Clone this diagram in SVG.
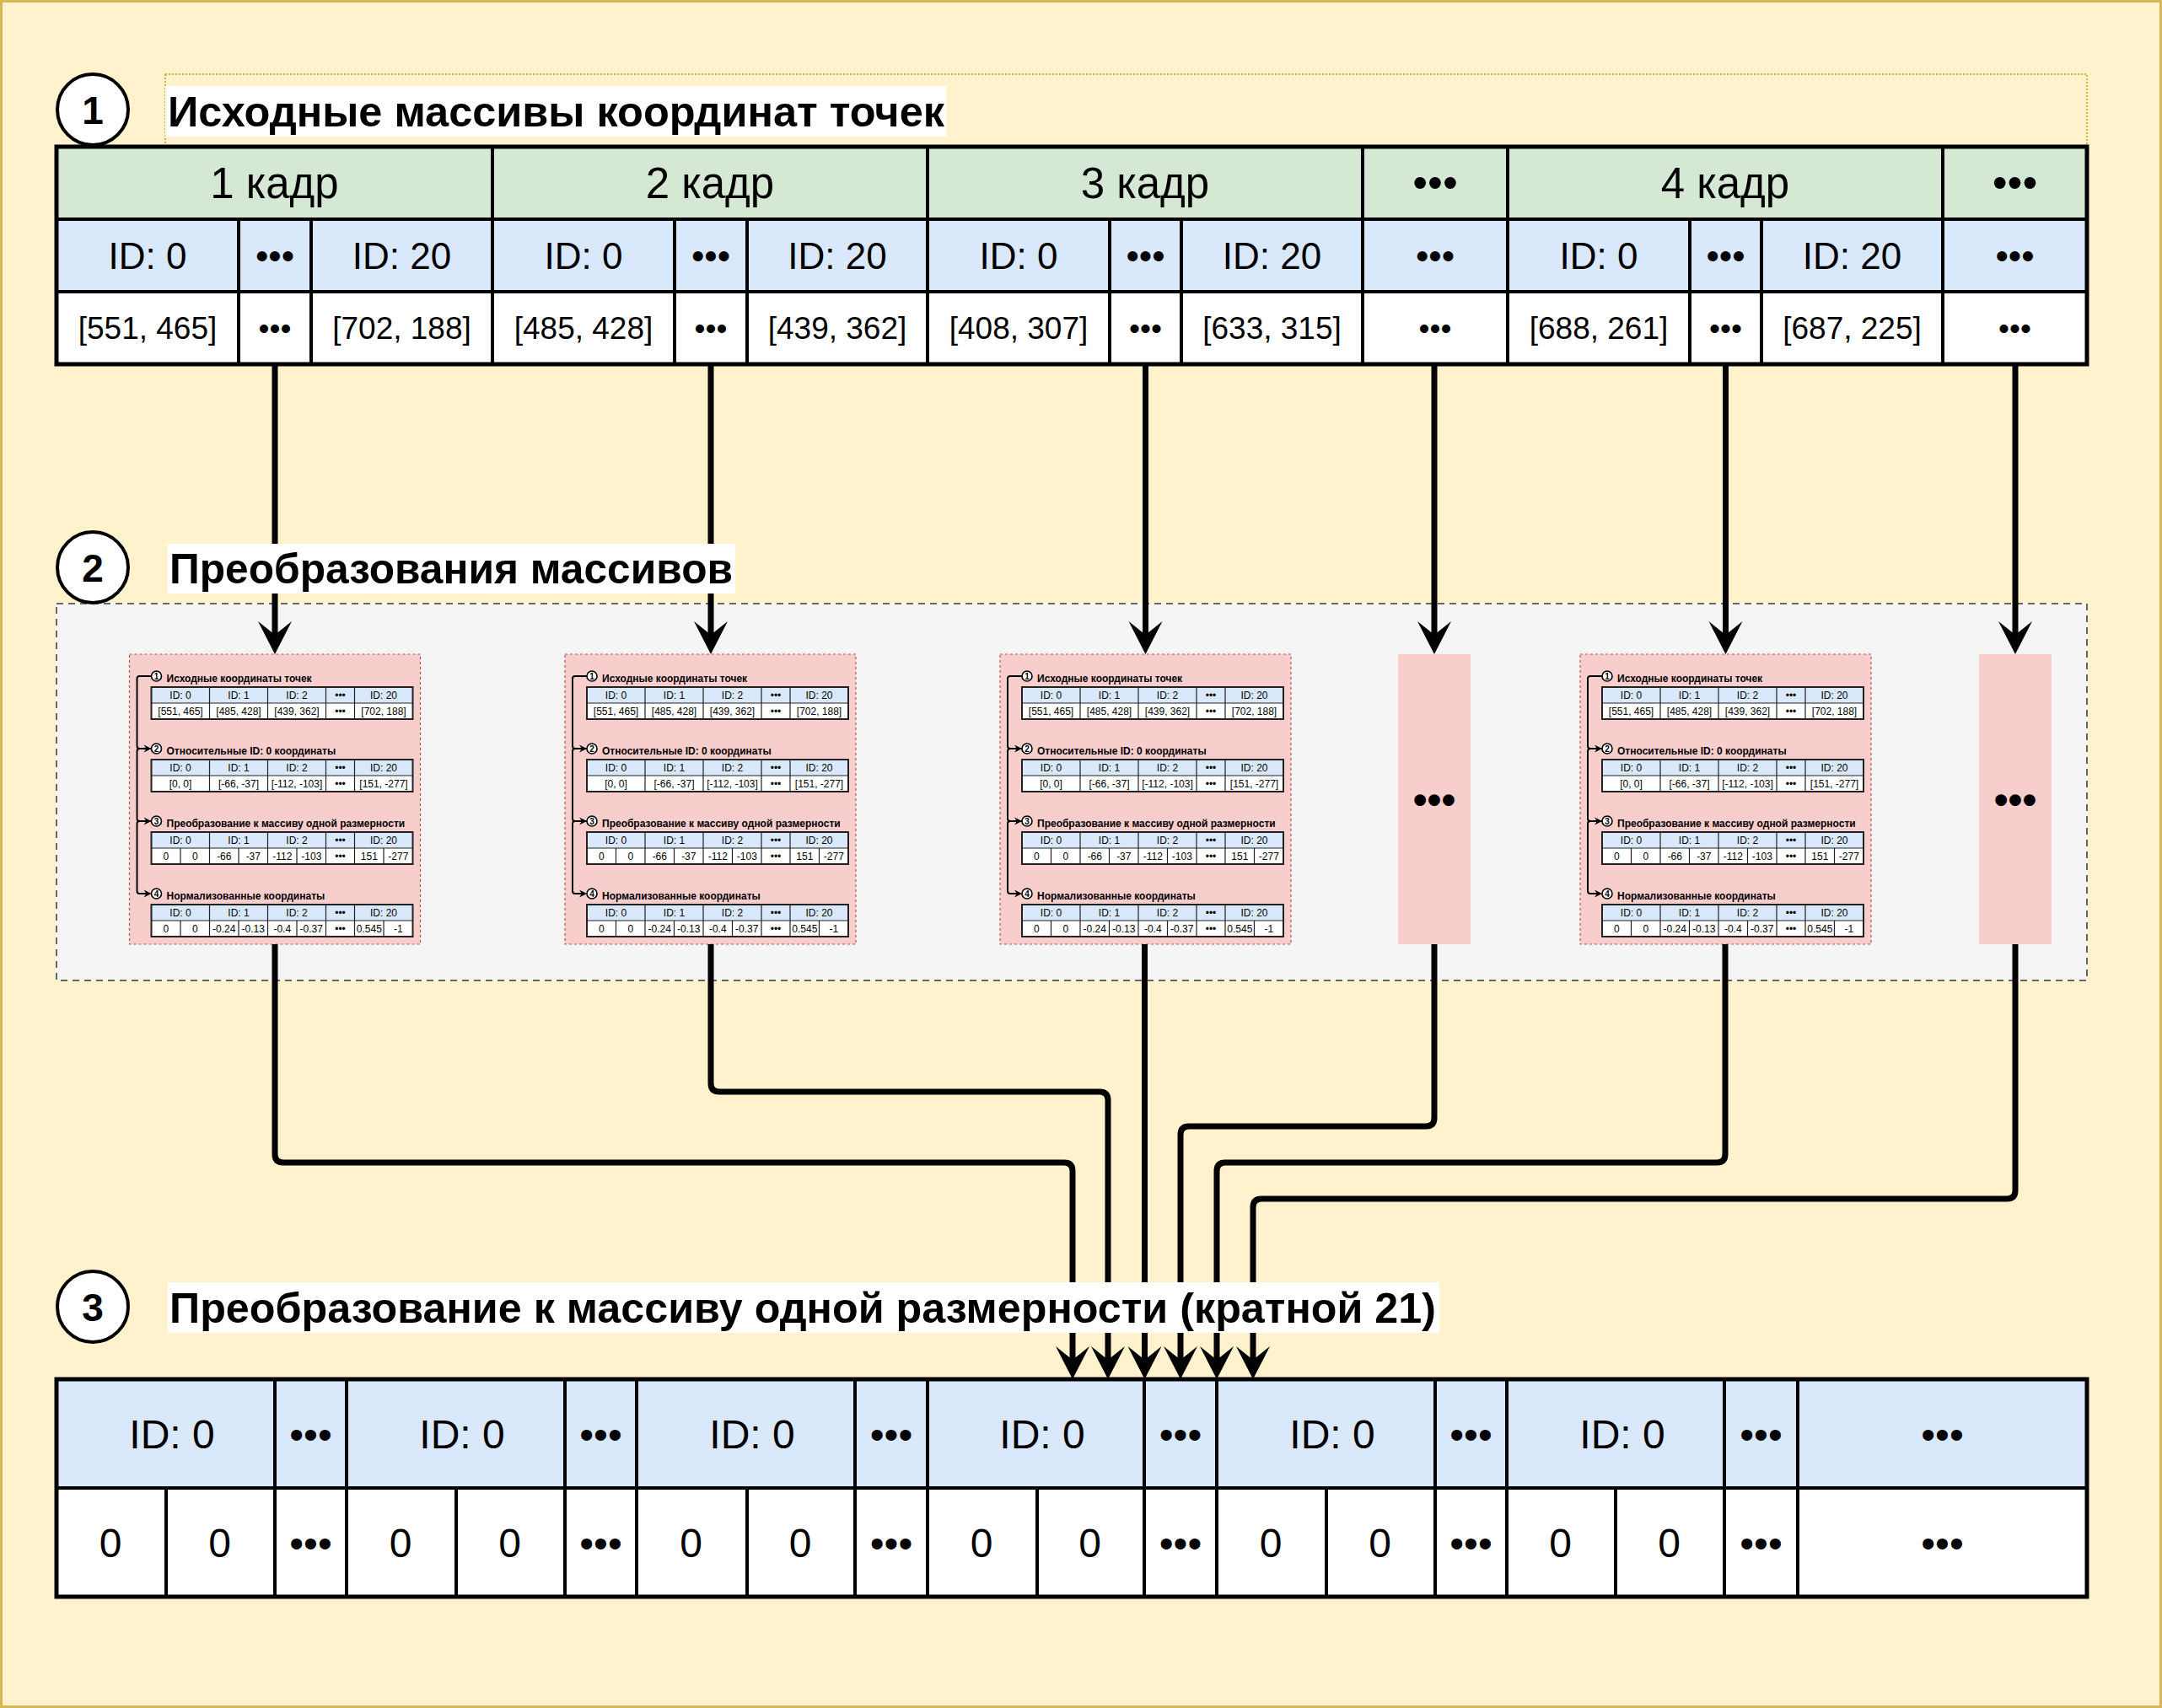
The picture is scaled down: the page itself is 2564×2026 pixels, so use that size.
<svg xmlns="http://www.w3.org/2000/svg" width="2564" height="2026" viewBox="0 0 2564 2026">
<defs>
<style>
text{font-family:"Liberation Sans",Arial,Helvetica,sans-serif;fill:#000;text-anchor:middle}
.tt{font-size:50px;font-weight:bold;text-anchor:start}
.cn{font-size:46px;font-weight:bold}
.h{font-size:51px}
.id{font-size:44px}
.d{font-size:37px}
.b{font-size:48px}
.m{font-size:12px}
.mt{font-size:12px;font-weight:bold;text-anchor:start}
.mc{font-size:10px;font-weight:bold}
.ln{stroke:#000;stroke-width:4;fill:none}
.lo{stroke:#000;stroke-width:5;fill:none}
.con{stroke:#000;stroke-width:7;fill:none;marker-end:url(#ab)}
.br{fill:none;stroke:#000;stroke-width:2;marker-end:url(#as)}
.mg{stroke:#222;stroke-width:1.2;fill:none}
.mo{stroke:#222;stroke-width:2;fill:none}
.mcir{fill:#fff;stroke:#000;stroke-width:1.6}
.pink{fill:#f8cecc;stroke:#b85450;stroke-width:1.2;stroke-dasharray:3 3}
.blue{fill:#dae8fc}
.wh{fill:#fff}
.cir{fill:#fff;stroke:#000;stroke-width:4}
</style>
<marker id="ab" markerUnits="userSpaceOnUse" markerWidth="50" markerHeight="50" viewBox="-25 -25 50 50" refX="0" refY="0" orient="auto" overflow="visible"><path d="M23 0L-16 20L0 0L-16 -20Z" fill="#000"/></marker>
<marker id="as" markerUnits="userSpaceOnUse" markerWidth="20" markerHeight="20" viewBox="-10 -10 20 20" refX="0" refY="0" orient="auto" overflow="visible"><path d="M6 0L-3 4.5L0 0L-3 -4.5Z" fill="#000"/></marker>
</defs>

<rect id="background" x="1.5" y="1.5" width="2561" height="2023" fill="#fff2cc" stroke="#d6b656" stroke-width="3"/>
<rect id="title1-frame" x="196" y="88" width="2279" height="86" fill="none" stroke="#d79b00" stroke-width="1.5" stroke-dasharray="2 2"/>
<rect id="transform-container" x="67" y="716" width="2408" height="447" fill="#f5f5f5" stroke="#666" stroke-width="2" stroke-dasharray="8 6"/>

<!-- Top table -->
<g id="source-table">
<rect x="67" y="174" width="2408" height="86" fill="#d5e8d4"/>
<rect x="67" y="260" width="2408" height="86" class="blue"/>
<rect x="67" y="346" width="2408" height="86" class="wh"/>
<path class="ln" d="M67 260H2475M67 346H2475M584 174V432M1100 174V432M1616 174V432M1788 174V432M2304 174V432M283 260V432M369 260V432M800 260V432M886 260V432M1316 260V432M1401 260V432M2004 260V432M2089 260V432"/>
<rect class="lo" x="67" y="174" width="2408" height="258"/>
<text class="h" x="325.5" y="235">1 кадр</text>
<text class="h" x="842" y="235">2 кадр</text>
<text class="h" x="1358" y="235">3 кадр</text>
<text class="h" x="1702" y="234">•••</text>
<text class="h" x="2046" y="235">4 кадр</text>
<text class="h" x="2389.5" y="234">•••</text>
<text class="id" x="175" y="319">ID: 0</text>
<text class="id" x="326" y="319">•••</text>
<text class="id" x="476.5" y="319">ID: 20</text>
<text class="id" x="692" y="319">ID: 0</text>
<text class="id" x="843" y="319">•••</text>
<text class="id" x="993" y="319">ID: 20</text>
<text class="id" x="1208" y="319">ID: 0</text>
<text class="id" x="1358.5" y="319">•••</text>
<text class="id" x="1508.5" y="319">ID: 20</text>
<text class="id" x="1702" y="319">•••</text>
<text class="id" x="1896" y="319">ID: 0</text>
<text class="id" x="2046.5" y="319">•••</text>
<text class="id" x="2196.5" y="319">ID: 20</text>
<text class="id" x="2389.5" y="319">•••</text>
<text class="d" x="175" y="402">[551, 465]</text>
<text class="d" x="326" y="402">•••</text>
<text class="d" x="476.5" y="402">[702, 188]</text>
<text class="d" x="692" y="402">[485, 428]</text>
<text class="d" x="843" y="402">•••</text>
<text class="d" x="993" y="402">[439, 362]</text>
<text class="d" x="1208" y="402">[408, 307]</text>
<text class="d" x="1358.5" y="402">•••</text>
<text class="d" x="1508.5" y="402">[633, 315]</text>
<text class="d" x="1702" y="402">•••</text>
<text class="d" x="1896" y="402">[688, 261]</text>
<text class="d" x="2046.5" y="402">•••</text>
<text class="d" x="2196.5" y="402">[687, 225]</text>
<text class="d" x="2389.5" y="402">•••</text>
</g>

<!-- Mini diagram 1 -->
<g id="frame1-transform" transform="translate(153.5,776)">
<rect class="pink" x="0" y="0" width="345" height="344"/>
<path class="br" d="M26 26H12Q9 26 9 29V109Q9 112 12 112H20"/>
<path class="br" d="M26 112H12Q9 112 9 115V195Q9 198 12 198H20"/>
<path class="br" d="M26 198H12Q9 198 9 201V281Q9 284 12 284H20"/>
<circle class="mcir" cx="32" cy="26" r="6"/><text class="mc" x="32" y="29.5">1</text>
<circle class="mcir" cx="32" cy="112" r="6"/><text class="mc" x="32" y="115.5">2</text>
<circle class="mcir" cx="32" cy="198" r="6"/><text class="mc" x="32" y="201.5">3</text>
<circle class="mcir" cx="32" cy="284" r="6"/><text class="mc" x="32" y="287.5">4</text>
<text class="mt" x="44" y="33">Исходные координаты точек</text>
<text class="mt" x="44" y="119">Относительные ID: 0 координаты</text>
<text class="mt" x="44" y="205">Преобразование к массиву одной размерности</text>
<text class="mt" x="44" y="291">Нормализованные координаты</text>
<rect class="blue" x="26" y="39" width="310" height="19"/><rect class="wh" x="26" y="58" width="310" height="19"/>
<rect class="blue" x="26" y="125" width="310" height="19"/><rect class="wh" x="26" y="144" width="310" height="19"/>
<rect class="blue" x="26" y="211" width="310" height="19"/><rect class="wh" x="26" y="230" width="310" height="19"/>
<rect class="blue" x="26" y="297" width="310" height="19"/><rect class="wh" x="26" y="316" width="310" height="19"/>
<path class="mg" d="M26 58H336M95 39V77M164 39V77M233 39V77M267 39V77M26 144H336M95 125V163M164 125V163M233 125V163M267 125V163M26 230H336M95 211V249M164 211V249M233 211V249M267 211V249M60.5 230V249M129.5 230V249M198.5 230V249M301.5 230V249M26 316H336M95 297V335M164 297V335M233 297V335M267 297V335M60.5 316V335M129.5 316V335M198.5 316V335M301.5 316V335"/>
<rect class="mo" x="26" y="39" width="310" height="38"/><rect class="mo" x="26" y="125" width="310" height="38"/><rect class="mo" x="26" y="211" width="310" height="38"/><rect class="mo" x="26" y="297" width="310" height="38"/>
<text class="m" x="60.5" y="52.7">ID: 0</text><text class="m" x="129.5" y="52.7">ID: 1</text><text class="m" x="198.5" y="52.7">ID: 2</text><text class="m" x="250" y="52.7">•••</text><text class="m" x="301.5" y="52.7">ID: 20</text>
<text class="m" x="60.5" y="71.7">[551, 465]</text><text class="m" x="129.5" y="71.7">[485, 428]</text><text class="m" x="198.5" y="71.7">[439, 362]</text><text class="m" x="250" y="71.7">•••</text><text class="m" x="301.5" y="71.7">[702, 188]</text>
<text class="m" x="60.5" y="138.7">ID: 0</text><text class="m" x="129.5" y="138.7">ID: 1</text><text class="m" x="198.5" y="138.7">ID: 2</text><text class="m" x="250" y="138.7">•••</text><text class="m" x="301.5" y="138.7">ID: 20</text>
<text class="m" x="60.5" y="157.7">[0, 0]</text><text class="m" x="129.5" y="157.7">[-66, -37]</text><text class="m" x="198.5" y="157.7">[-112, -103]</text><text class="m" x="250" y="157.7">•••</text><text class="m" x="301.5" y="157.7">[151, -277]</text>
<text class="m" x="60.5" y="224.7">ID: 0</text><text class="m" x="129.5" y="224.7">ID: 1</text><text class="m" x="198.5" y="224.7">ID: 2</text><text class="m" x="250" y="224.7">•••</text><text class="m" x="301.5" y="224.7">ID: 20</text>
<text class="m" x="43.3" y="243.7">0</text><text class="m" x="77.8" y="243.7">0</text><text class="m" x="112.3" y="243.7">-66</text><text class="m" x="146.8" y="243.7">-37</text><text class="m" x="181.3" y="243.7">-112</text><text class="m" x="215.8" y="243.7">-103</text><text class="m" x="250" y="243.7">•••</text><text class="m" x="284.3" y="243.7">151</text><text class="m" x="318.8" y="243.7">-277</text>
<text class="m" x="60.5" y="310.7">ID: 0</text><text class="m" x="129.5" y="310.7">ID: 1</text><text class="m" x="198.5" y="310.7">ID: 2</text><text class="m" x="250" y="310.7">•••</text><text class="m" x="301.5" y="310.7">ID: 20</text>
<text class="m" x="43.3" y="329.7">0</text><text class="m" x="77.8" y="329.7">0</text><text class="m" x="112.3" y="329.7">-0.24</text><text class="m" x="146.8" y="329.7">-0.13</text><text class="m" x="181.3" y="329.7">-0.4</text><text class="m" x="215.8" y="329.7">-0.37</text><text class="m" x="250" y="329.7">•••</text><text class="m" x="284.3" y="329.7">0.545</text><text class="m" x="318.8" y="329.7">-1</text>
</g>

<!-- Mini diagram 2 -->
<g id="frame2-transform" transform="translate(670,776)">
<rect class="pink" x="0" y="0" width="345" height="344"/>
<path class="br" d="M26 26H12Q9 26 9 29V109Q9 112 12 112H20"/>
<path class="br" d="M26 112H12Q9 112 9 115V195Q9 198 12 198H20"/>
<path class="br" d="M26 198H12Q9 198 9 201V281Q9 284 12 284H20"/>
<circle class="mcir" cx="32" cy="26" r="6"/><text class="mc" x="32" y="29.5">1</text>
<circle class="mcir" cx="32" cy="112" r="6"/><text class="mc" x="32" y="115.5">2</text>
<circle class="mcir" cx="32" cy="198" r="6"/><text class="mc" x="32" y="201.5">3</text>
<circle class="mcir" cx="32" cy="284" r="6"/><text class="mc" x="32" y="287.5">4</text>
<text class="mt" x="44" y="33">Исходные координаты точек</text>
<text class="mt" x="44" y="119">Относительные ID: 0 координаты</text>
<text class="mt" x="44" y="205">Преобразование к массиву одной размерности</text>
<text class="mt" x="44" y="291">Нормализованные координаты</text>
<rect class="blue" x="26" y="39" width="310" height="19"/><rect class="wh" x="26" y="58" width="310" height="19"/>
<rect class="blue" x="26" y="125" width="310" height="19"/><rect class="wh" x="26" y="144" width="310" height="19"/>
<rect class="blue" x="26" y="211" width="310" height="19"/><rect class="wh" x="26" y="230" width="310" height="19"/>
<rect class="blue" x="26" y="297" width="310" height="19"/><rect class="wh" x="26" y="316" width="310" height="19"/>
<path class="mg" d="M26 58H336M95 39V77M164 39V77M233 39V77M267 39V77M26 144H336M95 125V163M164 125V163M233 125V163M267 125V163M26 230H336M95 211V249M164 211V249M233 211V249M267 211V249M60.5 230V249M129.5 230V249M198.5 230V249M301.5 230V249M26 316H336M95 297V335M164 297V335M233 297V335M267 297V335M60.5 316V335M129.5 316V335M198.5 316V335M301.5 316V335"/>
<rect class="mo" x="26" y="39" width="310" height="38"/><rect class="mo" x="26" y="125" width="310" height="38"/><rect class="mo" x="26" y="211" width="310" height="38"/><rect class="mo" x="26" y="297" width="310" height="38"/>
<text class="m" x="60.5" y="52.7">ID: 0</text><text class="m" x="129.5" y="52.7">ID: 1</text><text class="m" x="198.5" y="52.7">ID: 2</text><text class="m" x="250" y="52.7">•••</text><text class="m" x="301.5" y="52.7">ID: 20</text>
<text class="m" x="60.5" y="71.7">[551, 465]</text><text class="m" x="129.5" y="71.7">[485, 428]</text><text class="m" x="198.5" y="71.7">[439, 362]</text><text class="m" x="250" y="71.7">•••</text><text class="m" x="301.5" y="71.7">[702, 188]</text>
<text class="m" x="60.5" y="138.7">ID: 0</text><text class="m" x="129.5" y="138.7">ID: 1</text><text class="m" x="198.5" y="138.7">ID: 2</text><text class="m" x="250" y="138.7">•••</text><text class="m" x="301.5" y="138.7">ID: 20</text>
<text class="m" x="60.5" y="157.7">[0, 0]</text><text class="m" x="129.5" y="157.7">[-66, -37]</text><text class="m" x="198.5" y="157.7">[-112, -103]</text><text class="m" x="250" y="157.7">•••</text><text class="m" x="301.5" y="157.7">[151, -277]</text>
<text class="m" x="60.5" y="224.7">ID: 0</text><text class="m" x="129.5" y="224.7">ID: 1</text><text class="m" x="198.5" y="224.7">ID: 2</text><text class="m" x="250" y="224.7">•••</text><text class="m" x="301.5" y="224.7">ID: 20</text>
<text class="m" x="43.3" y="243.7">0</text><text class="m" x="77.8" y="243.7">0</text><text class="m" x="112.3" y="243.7">-66</text><text class="m" x="146.8" y="243.7">-37</text><text class="m" x="181.3" y="243.7">-112</text><text class="m" x="215.8" y="243.7">-103</text><text class="m" x="250" y="243.7">•••</text><text class="m" x="284.3" y="243.7">151</text><text class="m" x="318.8" y="243.7">-277</text>
<text class="m" x="60.5" y="310.7">ID: 0</text><text class="m" x="129.5" y="310.7">ID: 1</text><text class="m" x="198.5" y="310.7">ID: 2</text><text class="m" x="250" y="310.7">•••</text><text class="m" x="301.5" y="310.7">ID: 20</text>
<text class="m" x="43.3" y="329.7">0</text><text class="m" x="77.8" y="329.7">0</text><text class="m" x="112.3" y="329.7">-0.24</text><text class="m" x="146.8" y="329.7">-0.13</text><text class="m" x="181.3" y="329.7">-0.4</text><text class="m" x="215.8" y="329.7">-0.37</text><text class="m" x="250" y="329.7">•••</text><text class="m" x="284.3" y="329.7">0.545</text><text class="m" x="318.8" y="329.7">-1</text>
</g>

<!-- Mini diagram 3 -->
<g id="frame3-transform" transform="translate(1186,776)">
<rect class="pink" x="0" y="0" width="345" height="344"/>
<path class="br" d="M26 26H12Q9 26 9 29V109Q9 112 12 112H20"/>
<path class="br" d="M26 112H12Q9 112 9 115V195Q9 198 12 198H20"/>
<path class="br" d="M26 198H12Q9 198 9 201V281Q9 284 12 284H20"/>
<circle class="mcir" cx="32" cy="26" r="6"/><text class="mc" x="32" y="29.5">1</text>
<circle class="mcir" cx="32" cy="112" r="6"/><text class="mc" x="32" y="115.5">2</text>
<circle class="mcir" cx="32" cy="198" r="6"/><text class="mc" x="32" y="201.5">3</text>
<circle class="mcir" cx="32" cy="284" r="6"/><text class="mc" x="32" y="287.5">4</text>
<text class="mt" x="44" y="33">Исходные координаты точек</text>
<text class="mt" x="44" y="119">Относительные ID: 0 координаты</text>
<text class="mt" x="44" y="205">Преобразование к массиву одной размерности</text>
<text class="mt" x="44" y="291">Нормализованные координаты</text>
<rect class="blue" x="26" y="39" width="310" height="19"/><rect class="wh" x="26" y="58" width="310" height="19"/>
<rect class="blue" x="26" y="125" width="310" height="19"/><rect class="wh" x="26" y="144" width="310" height="19"/>
<rect class="blue" x="26" y="211" width="310" height="19"/><rect class="wh" x="26" y="230" width="310" height="19"/>
<rect class="blue" x="26" y="297" width="310" height="19"/><rect class="wh" x="26" y="316" width="310" height="19"/>
<path class="mg" d="M26 58H336M95 39V77M164 39V77M233 39V77M267 39V77M26 144H336M95 125V163M164 125V163M233 125V163M267 125V163M26 230H336M95 211V249M164 211V249M233 211V249M267 211V249M60.5 230V249M129.5 230V249M198.5 230V249M301.5 230V249M26 316H336M95 297V335M164 297V335M233 297V335M267 297V335M60.5 316V335M129.5 316V335M198.5 316V335M301.5 316V335"/>
<rect class="mo" x="26" y="39" width="310" height="38"/><rect class="mo" x="26" y="125" width="310" height="38"/><rect class="mo" x="26" y="211" width="310" height="38"/><rect class="mo" x="26" y="297" width="310" height="38"/>
<text class="m" x="60.5" y="52.7">ID: 0</text><text class="m" x="129.5" y="52.7">ID: 1</text><text class="m" x="198.5" y="52.7">ID: 2</text><text class="m" x="250" y="52.7">•••</text><text class="m" x="301.5" y="52.7">ID: 20</text>
<text class="m" x="60.5" y="71.7">[551, 465]</text><text class="m" x="129.5" y="71.7">[485, 428]</text><text class="m" x="198.5" y="71.7">[439, 362]</text><text class="m" x="250" y="71.7">•••</text><text class="m" x="301.5" y="71.7">[702, 188]</text>
<text class="m" x="60.5" y="138.7">ID: 0</text><text class="m" x="129.5" y="138.7">ID: 1</text><text class="m" x="198.5" y="138.7">ID: 2</text><text class="m" x="250" y="138.7">•••</text><text class="m" x="301.5" y="138.7">ID: 20</text>
<text class="m" x="60.5" y="157.7">[0, 0]</text><text class="m" x="129.5" y="157.7">[-66, -37]</text><text class="m" x="198.5" y="157.7">[-112, -103]</text><text class="m" x="250" y="157.7">•••</text><text class="m" x="301.5" y="157.7">[151, -277]</text>
<text class="m" x="60.5" y="224.7">ID: 0</text><text class="m" x="129.5" y="224.7">ID: 1</text><text class="m" x="198.5" y="224.7">ID: 2</text><text class="m" x="250" y="224.7">•••</text><text class="m" x="301.5" y="224.7">ID: 20</text>
<text class="m" x="43.3" y="243.7">0</text><text class="m" x="77.8" y="243.7">0</text><text class="m" x="112.3" y="243.7">-66</text><text class="m" x="146.8" y="243.7">-37</text><text class="m" x="181.3" y="243.7">-112</text><text class="m" x="215.8" y="243.7">-103</text><text class="m" x="250" y="243.7">•••</text><text class="m" x="284.3" y="243.7">151</text><text class="m" x="318.8" y="243.7">-277</text>
<text class="m" x="60.5" y="310.7">ID: 0</text><text class="m" x="129.5" y="310.7">ID: 1</text><text class="m" x="198.5" y="310.7">ID: 2</text><text class="m" x="250" y="310.7">•••</text><text class="m" x="301.5" y="310.7">ID: 20</text>
<text class="m" x="43.3" y="329.7">0</text><text class="m" x="77.8" y="329.7">0</text><text class="m" x="112.3" y="329.7">-0.24</text><text class="m" x="146.8" y="329.7">-0.13</text><text class="m" x="181.3" y="329.7">-0.4</text><text class="m" x="215.8" y="329.7">-0.37</text><text class="m" x="250" y="329.7">•••</text><text class="m" x="284.3" y="329.7">0.545</text><text class="m" x="318.8" y="329.7">-1</text>
</g>

<g id="dots-transform-1">
<rect x="1658" y="776" width="86" height="344" fill="#f8cecc"/>
<text x="1701" y="965" style="font-size:48px;font-weight:bold">•••</text>
</g>

<!-- Mini diagram 4 -->
<g id="frame4-transform" transform="translate(1874,776)">
<rect class="pink" x="0" y="0" width="345" height="344"/>
<path class="br" d="M26 26H12Q9 26 9 29V109Q9 112 12 112H20"/>
<path class="br" d="M26 112H12Q9 112 9 115V195Q9 198 12 198H20"/>
<path class="br" d="M26 198H12Q9 198 9 201V281Q9 284 12 284H20"/>
<circle class="mcir" cx="32" cy="26" r="6"/><text class="mc" x="32" y="29.5">1</text>
<circle class="mcir" cx="32" cy="112" r="6"/><text class="mc" x="32" y="115.5">2</text>
<circle class="mcir" cx="32" cy="198" r="6"/><text class="mc" x="32" y="201.5">3</text>
<circle class="mcir" cx="32" cy="284" r="6"/><text class="mc" x="32" y="287.5">4</text>
<text class="mt" x="44" y="33">Исходные координаты точек</text>
<text class="mt" x="44" y="119">Относительные ID: 0 координаты</text>
<text class="mt" x="44" y="205">Преобразование к массиву одной размерности</text>
<text class="mt" x="44" y="291">Нормализованные координаты</text>
<rect class="blue" x="26" y="39" width="310" height="19"/><rect class="wh" x="26" y="58" width="310" height="19"/>
<rect class="blue" x="26" y="125" width="310" height="19"/><rect class="wh" x="26" y="144" width="310" height="19"/>
<rect class="blue" x="26" y="211" width="310" height="19"/><rect class="wh" x="26" y="230" width="310" height="19"/>
<rect class="blue" x="26" y="297" width="310" height="19"/><rect class="wh" x="26" y="316" width="310" height="19"/>
<path class="mg" d="M26 58H336M95 39V77M164 39V77M233 39V77M267 39V77M26 144H336M95 125V163M164 125V163M233 125V163M267 125V163M26 230H336M95 211V249M164 211V249M233 211V249M267 211V249M60.5 230V249M129.5 230V249M198.5 230V249M301.5 230V249M26 316H336M95 297V335M164 297V335M233 297V335M267 297V335M60.5 316V335M129.5 316V335M198.5 316V335M301.5 316V335"/>
<rect class="mo" x="26" y="39" width="310" height="38"/><rect class="mo" x="26" y="125" width="310" height="38"/><rect class="mo" x="26" y="211" width="310" height="38"/><rect class="mo" x="26" y="297" width="310" height="38"/>
<text class="m" x="60.5" y="52.7">ID: 0</text><text class="m" x="129.5" y="52.7">ID: 1</text><text class="m" x="198.5" y="52.7">ID: 2</text><text class="m" x="250" y="52.7">•••</text><text class="m" x="301.5" y="52.7">ID: 20</text>
<text class="m" x="60.5" y="71.7">[551, 465]</text><text class="m" x="129.5" y="71.7">[485, 428]</text><text class="m" x="198.5" y="71.7">[439, 362]</text><text class="m" x="250" y="71.7">•••</text><text class="m" x="301.5" y="71.7">[702, 188]</text>
<text class="m" x="60.5" y="138.7">ID: 0</text><text class="m" x="129.5" y="138.7">ID: 1</text><text class="m" x="198.5" y="138.7">ID: 2</text><text class="m" x="250" y="138.7">•••</text><text class="m" x="301.5" y="138.7">ID: 20</text>
<text class="m" x="60.5" y="157.7">[0, 0]</text><text class="m" x="129.5" y="157.7">[-66, -37]</text><text class="m" x="198.5" y="157.7">[-112, -103]</text><text class="m" x="250" y="157.7">•••</text><text class="m" x="301.5" y="157.7">[151, -277]</text>
<text class="m" x="60.5" y="224.7">ID: 0</text><text class="m" x="129.5" y="224.7">ID: 1</text><text class="m" x="198.5" y="224.7">ID: 2</text><text class="m" x="250" y="224.7">•••</text><text class="m" x="301.5" y="224.7">ID: 20</text>
<text class="m" x="43.3" y="243.7">0</text><text class="m" x="77.8" y="243.7">0</text><text class="m" x="112.3" y="243.7">-66</text><text class="m" x="146.8" y="243.7">-37</text><text class="m" x="181.3" y="243.7">-112</text><text class="m" x="215.8" y="243.7">-103</text><text class="m" x="250" y="243.7">•••</text><text class="m" x="284.3" y="243.7">151</text><text class="m" x="318.8" y="243.7">-277</text>
<text class="m" x="60.5" y="310.7">ID: 0</text><text class="m" x="129.5" y="310.7">ID: 1</text><text class="m" x="198.5" y="310.7">ID: 2</text><text class="m" x="250" y="310.7">•••</text><text class="m" x="301.5" y="310.7">ID: 20</text>
<text class="m" x="43.3" y="329.7">0</text><text class="m" x="77.8" y="329.7">0</text><text class="m" x="112.3" y="329.7">-0.24</text><text class="m" x="146.8" y="329.7">-0.13</text><text class="m" x="181.3" y="329.7">-0.4</text><text class="m" x="215.8" y="329.7">-0.37</text><text class="m" x="250" y="329.7">•••</text><text class="m" x="284.3" y="329.7">0.545</text><text class="m" x="318.8" y="329.7">-1</text>
</g>

<g id="dots-transform-2">
<rect x="2347" y="776" width="86" height="344" fill="#f8cecc"/>
<text x="2390" y="965" style="font-size:48px;font-weight:bold">•••</text>
</g>

<!-- Bottom table -->
<g id="flat-table">
<rect x="67" y="1636" width="2408" height="129" class="blue"/>
<rect x="67" y="1765" width="2408" height="129" class="wh"/>
<path class="ln" d="M67 1765H2475M326 1636V1894M411 1636V1894M670 1636V1894M755 1636V1894M1014 1636V1894M1100 1636V1894M1357 1636V1894M1443 1636V1894M1702 1636V1894M1787 1636V1894M2045 1636V1894M2132 1636V1894M197 1765V1894M541 1765V1894M886 1765V1894M1230 1765V1894M1573 1765V1894M1916 1765V1894"/>
<rect class="lo" x="67" y="1636" width="2408" height="258"/>
<text class="b" x="204" y="1718">ID: 0</text>
<text class="b" x="368.5" y="1718">•••</text>
<text class="b" x="548" y="1718">ID: 0</text>
<text class="b" x="712.5" y="1718">•••</text>
<text class="b" x="892" y="1718">ID: 0</text>
<text class="b" x="1057" y="1718">•••</text>
<text class="b" x="1236" y="1718">ID: 0</text>
<text class="b" x="1400" y="1718">•••</text>
<text class="b" x="1580" y="1718">ID: 0</text>
<text class="b" x="1744.5" y="1718">•••</text>
<text class="b" x="1924" y="1718">ID: 0</text>
<text class="b" x="2088.5" y="1718">•••</text>
<text class="b" x="2303.5" y="1718">•••</text>
<text class="b" x="131" y="1847">0</text>
<text class="b" x="260.5" y="1847">0</text>
<text class="b" x="368.5" y="1847">•••</text>
<text class="b" x="475" y="1847">0</text>
<text class="b" x="604.5" y="1847">0</text>
<text class="b" x="712.5" y="1847">•••</text>
<text class="b" x="819.5" y="1847">0</text>
<text class="b" x="949" y="1847">0</text>
<text class="b" x="1057" y="1847">•••</text>
<text class="b" x="1164" y="1847">0</text>
<text class="b" x="1292.5" y="1847">0</text>
<text class="b" x="1400" y="1847">•••</text>
<text class="b" x="1507" y="1847">0</text>
<text class="b" x="1636.5" y="1847">0</text>
<text class="b" x="1744.5" y="1847">•••</text>
<text class="b" x="1850.5" y="1847">0</text>
<text class="b" x="1979.5" y="1847">0</text>
<text class="b" x="2088.5" y="1847">•••</text>
<text class="b" x="2303.5" y="1847">•••</text>
</g>

<!-- Connectors -->
<g id="connectors">
<path class="con" d="M326 432V753"/>
<path class="con" d="M843 432V753"/>
<path class="con" d="M1358.5 432V753"/>
<path class="con" d="M1701 432V753"/>
<path class="con" d="M2046.5 432V753"/>
<path class="con" d="M2390 432V753"/>
<path class="con" d="M326 1120V1369Q326 1379 336 1379H1262Q1272 1379 1272 1389V1613"/>
<path class="con" d="M843 1120V1285Q843 1295 853 1295H1304Q1314 1295 1314 1305V1613"/>
<path class="con" d="M1357.5 1120V1613"/>
<path class="con" d="M1701 1120V1326Q1701 1336 1691 1336H1410Q1400 1336 1400 1346V1613"/>
<path class="con" d="M2046 1120V1369Q2046 1379 2036 1379H1453Q1443 1379 1443 1389V1613"/>
<path class="con" d="M2390 1120V1412Q2390 1422 2380 1422H1496Q1486 1422 1486 1432V1613"/>
</g>

<!-- Section titles -->
<g id="section1">
<circle class="cir" cx="110" cy="130" r="42"/>
<text class="cn" x="110" y="146.5">1</text>
<rect x="196" y="102" width="926" height="60" fill="#fff"/>
<text class="tt" x="199" y="150" textLength="921" lengthAdjust="spacingAndGlyphs">Исходные массивы координат точек</text>
</g>
<g id="section2">
<circle class="cir" cx="110" cy="673" r="42"/>
<text class="cn" x="110" y="689.5">2</text>
<rect x="199" y="645" width="673" height="59" fill="#fff"/>
<text class="tt" x="201" y="692" textLength="668" lengthAdjust="spacingAndGlyphs">Преобразования массивов</text>
</g>
<g id="section3">
<circle class="cir" cx="110" cy="1550" r="42"/>
<text class="cn" x="110" y="1566.5">3</text>
<rect x="199" y="1521" width="1508" height="60" fill="#fff"/>
<text class="tt" x="201" y="1569" textLength="1502" lengthAdjust="spacingAndGlyphs">Преобразование к массиву одной размерности (кратной 21)</text>
</g>
</svg>
